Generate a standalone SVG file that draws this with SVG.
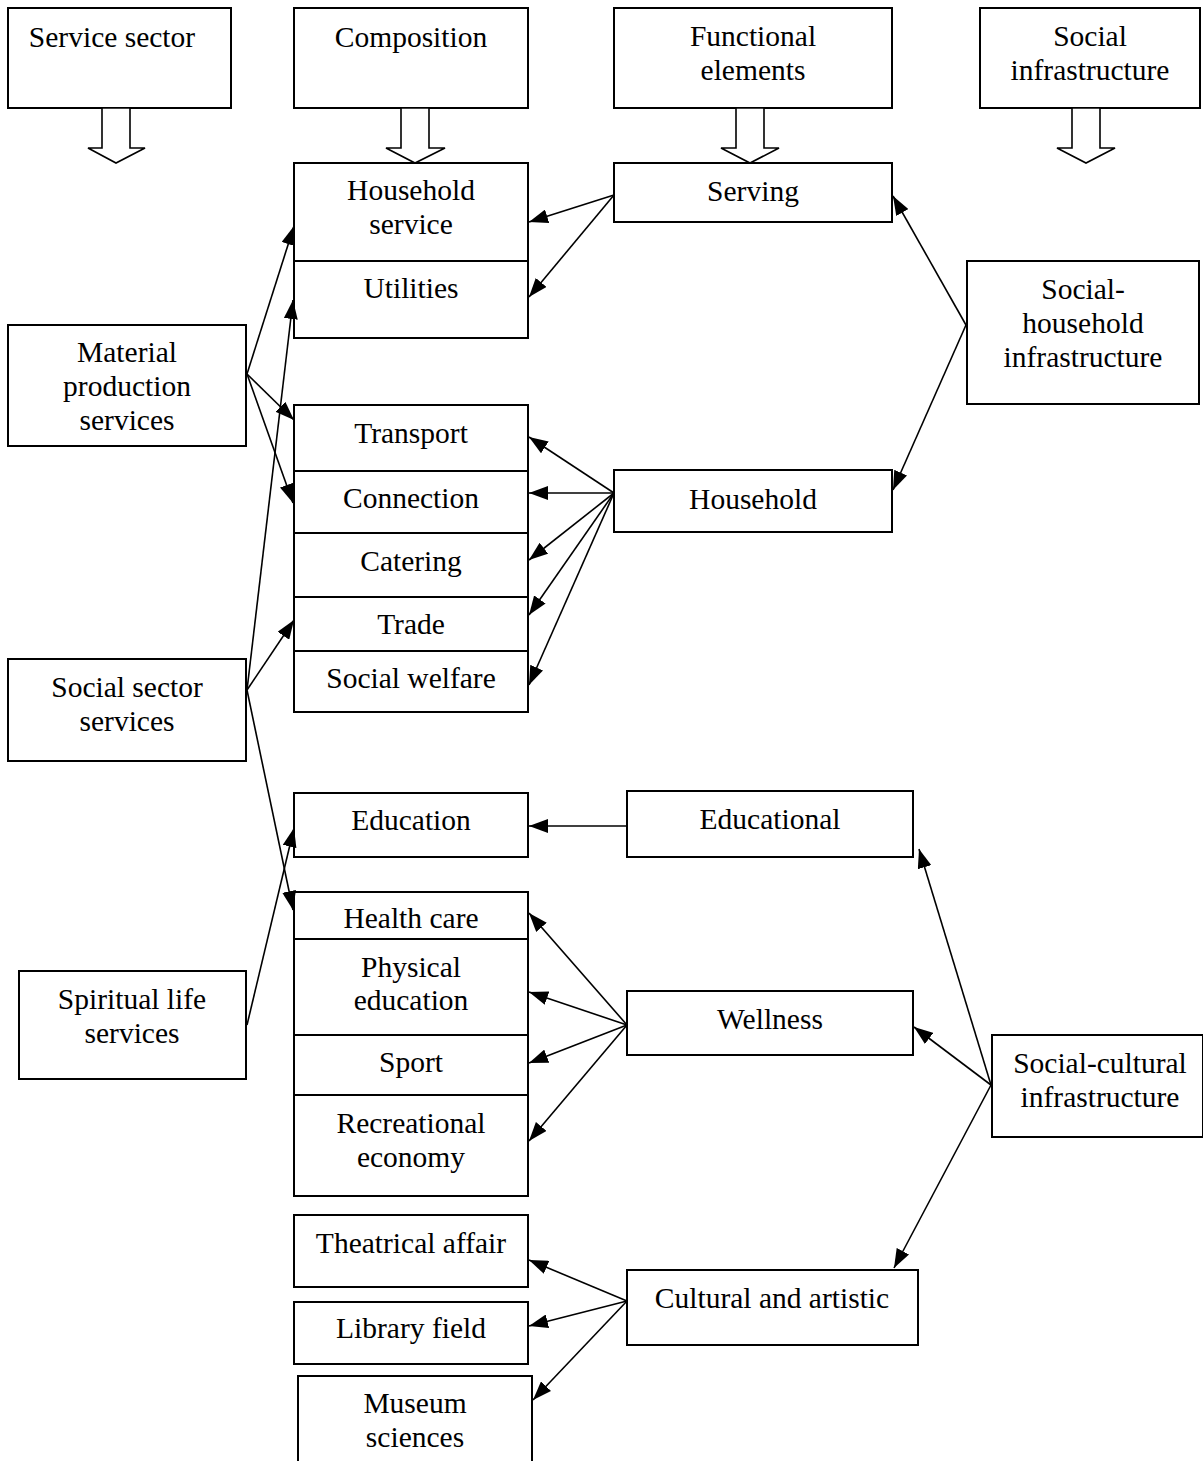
<svg xmlns="http://www.w3.org/2000/svg" width="1203" height="1461" viewBox="0 0 1203 1461">
<style>
.box{fill:#fff;stroke:#000;stroke-width:2}
.div{stroke:#000;stroke-width:2}
text{font-family:"Liberation Serif","Times New Roman",serif;font-size:29.5px;fill:#000;text-anchor:middle}
.c line{stroke:#000;stroke-width:1.6;marker-end:url(#ah)}
.hollow{fill:#fff;stroke:#000;stroke-width:1.6}
</style>
<defs>
<marker id="ah" markerUnits="userSpaceOnUse" markerWidth="19" markerHeight="14" refX="19" refY="7" orient="auto">
<path d="M0,0 L19,7 L0,14 z" fill="#000"/>
</marker>
</defs>
<rect width="1203" height="1461" fill="#fff"/>

<g id="n-service-sector"><rect class="box" x="8" y="8" width="223" height="100"/><text x="112" y="47">Service sector</text></g>
<g id="n-composition"><rect class="box" x="294" y="8" width="234" height="100"/><text x="411" y="47">Composition</text></g>
<g id="n-functional"><rect class="box" x="614" y="8" width="278" height="100"/><text x="753" y="46">Functional</text><text x="753" y="80">elements</text></g>
<g id="n-social-infra"><rect class="box" x="980" y="8" width="220" height="100"/><text x="1090" y="46">Social</text><text x="1090" y="80">infrastructure</text></g>

<g id="hollow-arrows">
<polygon class="hollow" points="102,108 102,148 88,148 116,163 145,148 130,148 130,108"/>
<polygon class="hollow" points="401,108 401,148 386,148 415,163 445,148 429,148 429,108"/>
<polygon class="hollow" points="736,108 736,148 721,148 750,163 779,148 764,148 764,108"/>
<polygon class="hollow" points="1072,108 1072,148 1057,148 1086,163 1115,148 1100,148 1100,108"/>
</g>

<g id="n-household-utilities"><rect class="box" x="294" y="163" width="234" height="175"/><line class="div" x1="294" y1="261" x2="528" y2="261"/><text x="411" y="200">Household</text><text x="411" y="234">service</text><text x="411" y="298">Utilities</text></g>

<g id="n-transport-group"><rect class="box" x="294" y="405" width="234" height="307"/>
<line class="div" x1="294" y1="471" x2="528" y2="471"/><line class="div" x1="294" y1="533" x2="528" y2="533"/><line class="div" x1="294" y1="597" x2="528" y2="597"/><line class="div" x1="294" y1="651" x2="528" y2="651"/>
<text x="411" y="443">Transport</text><text x="411" y="508">Connection</text><text x="411" y="571">Catering</text><text x="411" y="634">Trade</text><text x="411" y="688">Social welfare</text></g>

<g id="n-education"><rect class="box" x="294" y="793" width="234" height="64"/><text x="411" y="830">Education</text></g>

<g id="n-health-group"><rect class="box" x="294" y="892" width="234" height="304"/>
<line class="div" x1="294" y1="939" x2="528" y2="939"/><line class="div" x1="294" y1="1035" x2="528" y2="1035"/><line class="div" x1="294" y1="1095" x2="528" y2="1095"/>
<text x="411" y="928">Health care</text><text x="411" y="977">Physical</text><text x="411" y="1010">education</text><text x="411" y="1072">Sport</text><text x="411" y="1133">Recreational</text><text x="411" y="1167">economy</text></g>

<g id="n-theatrical"><rect class="box" x="294" y="1215" width="234" height="72"/><text x="411" y="1253">Theatrical affair</text></g>
<g id="n-library"><rect class="box" x="294" y="1302" width="234" height="62"/><text x="411" y="1338">Library field</text></g>
<g id="n-museum"><rect class="box" x="298" y="1376" width="234" height="100"/><text x="415" y="1413">Museum</text><text x="415" y="1447">sciences</text></g>

<g id="n-material"><rect class="box" x="8" y="325" width="238" height="121"/><text x="127" y="362">Material</text><text x="127" y="396">production</text><text x="127" y="430">services</text></g>
<g id="n-social-sector"><rect class="box" x="8" y="659" width="238" height="102"/><text x="127" y="697">Social sector</text><text x="127" y="731">services</text></g>
<g id="n-spiritual"><rect class="box" x="19" y="971" width="227" height="108"/><text x="132" y="1009">Spiritual life</text><text x="132" y="1043">services</text></g>

<g id="n-serving"><rect class="box" x="614" y="163" width="278" height="59"/><text x="753" y="201">Serving</text></g>
<g id="n-household"><rect class="box" x="614" y="470" width="278" height="62"/><text x="753" y="509">Household</text></g>
<g id="n-educational"><rect class="box" x="627" y="791" width="286" height="66"/><text x="770" y="829">Educational</text></g>
<g id="n-wellness"><rect class="box" x="627" y="991" width="286" height="64"/><text x="770" y="1029">Wellness</text></g>
<g id="n-cultural"><rect class="box" x="627" y="1270" width="291" height="75"/><text x="772" y="1308">Cultural and artistic</text></g>

<g id="n-social-household"><rect class="box" x="967" y="261" width="232" height="143"/><text x="1083" y="299">Social-</text><text x="1083" y="333">household</text><text x="1083" y="367">infrastructure</text></g>
<g id="n-social-cultural"><rect class="box" x="992" y="1035" width="211" height="102"/><text x="1100" y="1073">Social-cultural</text><text x="1100" y="1107">infrastructure</text></g>

<g id="connectors" class="c">
<line x1="614" y1="195" x2="529" y2="222"/>
<line x1="614" y1="195" x2="529" y2="297"/>
<line x1="966" y1="325" x2="893" y2="196"/>
<line x1="966" y1="325" x2="893" y2="490"/>
<line x1="614" y1="493" x2="529" y2="437"/>
<line x1="614" y1="493" x2="529" y2="493"/>
<line x1="614" y1="493" x2="529" y2="560"/>
<line x1="614" y1="493" x2="529" y2="615"/>
<line x1="614" y1="493" x2="529" y2="685"/>
<line x1="247" y1="374" x2="294" y2="226"/>
<line x1="247" y1="374" x2="294" y2="420"/>
<line x1="247" y1="374" x2="293" y2="503"/>
<line x1="247" y1="690" x2="293" y2="300"/>
<line x1="247" y1="690" x2="294" y2="620"/>
<line x1="247" y1="690" x2="293" y2="910"/>
<line x1="247" y1="1025" x2="294" y2="828"/>
<line x1="627" y1="826" x2="529" y2="826"/>
<line x1="627" y1="1025" x2="529" y2="913"/>
<line x1="627" y1="1025" x2="529" y2="992"/>
<line x1="627" y1="1025" x2="529" y2="1063"/>
<line x1="627" y1="1025" x2="529" y2="1141"/>
<line x1="991" y1="1085" x2="919" y2="849"/>
<line x1="991" y1="1085" x2="914" y2="1027"/>
<line x1="991" y1="1085" x2="894" y2="1268"/>
<line x1="627" y1="1301" x2="529" y2="1260"/>
<line x1="627" y1="1301" x2="529" y2="1326"/>
<line x1="627" y1="1301" x2="533" y2="1400"/>
</g>
</svg>
